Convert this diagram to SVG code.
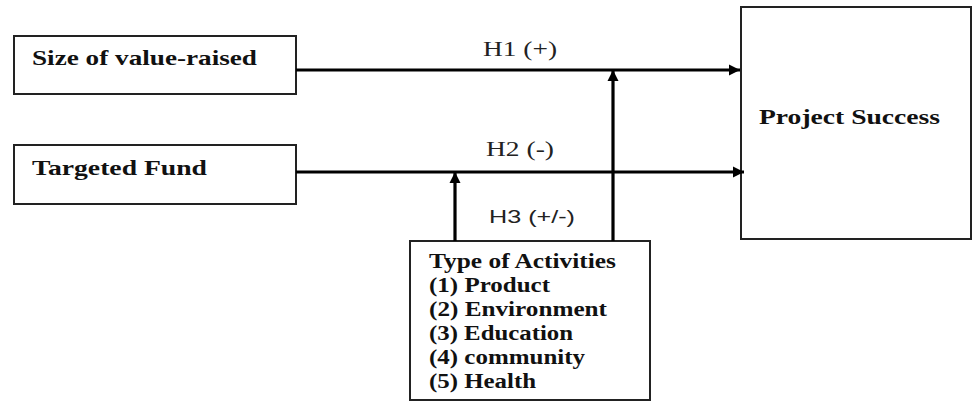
<svg xmlns="http://www.w3.org/2000/svg" width="972" height="402" viewBox="0 0 972 402">
<style>
.box{fill:#fff;stroke:#222;stroke-width:2}
.t{font-family:"Liberation Serif","Times New Roman",serif;font-weight:bold;fill:#111}
.lbl{font-family:"Liberation Serif","Times New Roman",serif;fill:#222;font-size:20px}
.lbs{font-family:"Liberation Sans",Arial,sans-serif;fill:#222;font-size:19px}
.c{stroke:#000;stroke-width:3.2;fill:none}
</style>
<defs>
<marker id="ah" viewBox="0 0 10 10" refX="10" refY="5" markerWidth="3.5" markerHeight="3.5" markerUnits="strokeWidth" orient="auto">
<path d="M0,0 L10,5 L0,10 z" fill="#000"/>
</marker>
</defs>
<g id="size">
<rect class="box" x="14" y="36" width="282" height="58"/>
<text class="t" x="32" y="65" font-size="22" textLength="225" lengthAdjust="spacingAndGlyphs">Size of value-raised</text>
</g>
<g id="fund">
<rect class="box" x="14" y="145" width="282" height="59"/>
<text class="t" x="32" y="175" font-size="22" textLength="175" lengthAdjust="spacingAndGlyphs">Targeted Fund</text>
</g>
<g id="success">
<rect class="box" x="741" y="7" width="230" height="232"/>
<text class="t" x="759" y="124" font-size="22" textLength="181" lengthAdjust="spacingAndGlyphs">Project Success</text>
</g>
<g id="activities">
<rect class="box" x="410" y="241" width="240" height="159"/>
<text class="t" font-size="20" x="429" y="268" textLength="187" lengthAdjust="spacingAndGlyphs">Type of Activities</text>
<text class="t" font-size="20" x="429" y="292" textLength="121" lengthAdjust="spacingAndGlyphs">(1) Product</text>
<text class="t" font-size="20" x="429" y="316" textLength="178" lengthAdjust="spacingAndGlyphs">(2) Environment</text>
<text class="t" font-size="20" x="429" y="340" textLength="144" lengthAdjust="spacingAndGlyphs">(3) Education</text>
<text class="t" font-size="20" x="429" y="364" textLength="156" lengthAdjust="spacingAndGlyphs">(4) community</text>
<text class="t" font-size="20" x="429" y="388" textLength="107" lengthAdjust="spacingAndGlyphs">(5) Health</text>
</g>
<g id="connectors">
<line class="c" x1="296" y1="70" x2="740" y2="70" marker-end="url(#ah)"/>
<line class="c" x1="296" y1="172" x2="744" y2="172" marker-end="url(#ah)"/>
<line class="c" x1="613" y1="241" x2="613" y2="70" marker-end="url(#ah)"/>
<line class="c" x1="455" y1="241" x2="455" y2="172" marker-end="url(#ah)"/>
<text class="lbl" x="483" y="56" textLength="74" lengthAdjust="spacingAndGlyphs">H1 (+)</text>
<text class="lbl" x="486" y="156" textLength="68" lengthAdjust="spacingAndGlyphs">H2 (-)</text>
<text class="lbs" x="489" y="223" textLength="86" lengthAdjust="spacingAndGlyphs">H3 (+/-)</text>
</g>
</svg>
